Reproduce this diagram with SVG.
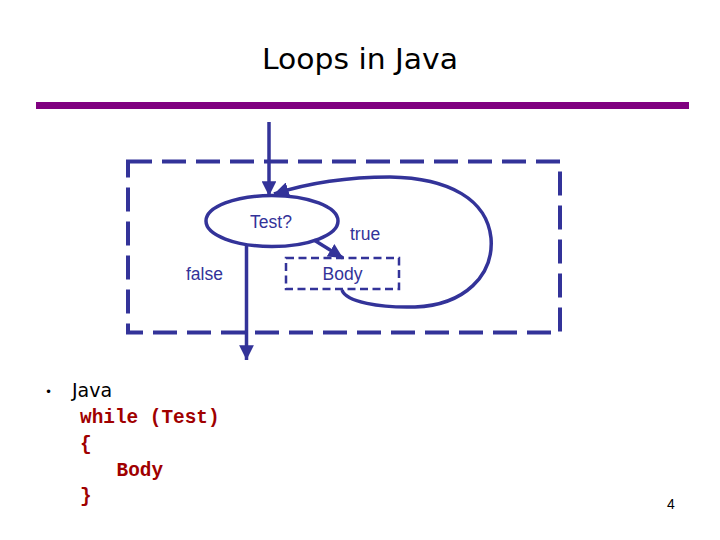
<svg xmlns="http://www.w3.org/2000/svg" width="720" height="540" viewBox="0 0 720 540">
<defs>
<style>
.ln{fill:none;stroke:#333399;stroke-width:3.5}
.lbl{font-family:"Liberation Sans",Arial,sans-serif;font-size:17.5px;fill:#333399}
.code{font-family:"Liberation Mono","Courier New",monospace;font-weight:bold;font-size:19.4px;fill:#a00000}
.hand{font-family:"DejaVu Sans","Open Sans",sans-serif;fill:#000}
</style>
<marker id="ah" viewBox="0 0 10 10" refX="10" refY="5" markerWidth="4.2" markerHeight="4.2" orient="auto" markerUnits="strokeWidth">
<path d="M0,0 L10,5 L0,10 Z" fill="#333399"/>
</marker>
</defs>
<rect width="720" height="540" fill="#fff"/>
<text class="hand" x="360" y="69" font-size="29" text-anchor="middle" textLength="196" lengthAdjust="spacingAndGlyphs">Loops in Java</text>
<rect x="36" y="102" width="653" height="7" fill="#800080"/>
<g id="frame">
<rect x="128" y="161.5" width="432" height="171" fill="none" stroke="#333399" stroke-width="4" stroke-dasharray="24,10"/>
</g>
<g id="test">
<ellipse cx="272" cy="221" rx="66" ry="25.5" class="ln" stroke-width="3"/>
<text class="lbl" x="271" y="228" text-anchor="middle">Test?</text>
</g>
<g id="body">
<rect x="286" y="258" width="113" height="31" fill="none" stroke="#333399" stroke-width="2.5" stroke-dasharray="8,4.5"/>
<text class="lbl" x="342.5" y="280" text-anchor="middle">Body</text>
</g>
<g id="connectors">
<line x1="269" y1="122" x2="269" y2="196" class="ln" marker-end="url(#ah)"/>
<line x1="246.5" y1="246" x2="246.5" y2="360" class="ln" marker-end="url(#ah)"/>
<line x1="314" y1="240" x2="343" y2="258" class="ln" marker-end="url(#ah)"/>
<path d="M 342 290 C 346 302, 380 308, 415 307 C 465 305, 494 275, 491 238 C 487 200, 450 178, 390 177 C 345 177, 305 184, 274 194" class="ln" marker-end="url(#ah)"/>
<text class="lbl" x="350" y="240">true</text>
<text class="lbl" x="186" y="280">false</text>
</g>
<text class="hand" x="45" y="396" font-size="12">•</text>
<text class="hand" x="72" y="397" font-size="19">Java</text>
<text class="code" x="80" y="423">while (Test)</text>
<text class="code" x="80" y="450">{</text>
<text class="code" x="116.5" y="476">Body</text>
<text class="code" x="80" y="502">}</text>
<text class="lbl" x="667" y="509" style="fill:#000;font-size:14px">4</text>
</svg>
